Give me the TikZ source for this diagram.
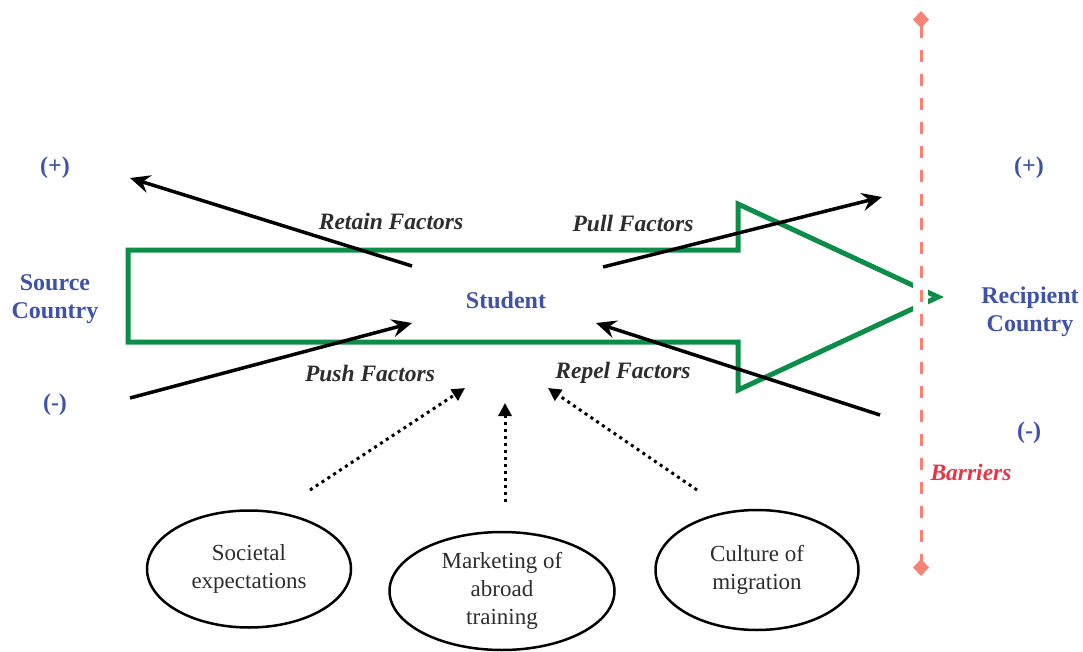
\documentclass[tikz,border=0pt]{standalone}
\usepackage{fontspec}
\setmainfont{Liberation Serif}
\usetikzlibrary{arrows.meta,shapes.geometric}
\definecolor{cblue}{RGB}{62,82,170}
\definecolor{cgreen}{RGB}{12,142,72}
\definecolor{cred}{RGB}{232,52,72}
\definecolor{csalmon}{RGB}{246,132,118}
\definecolor{cgray}{RGB}{45,45,45}

\begin{document}
\begin{tikzpicture}[x=1pt,y=-1pt,
    country/.style={text=cblue,font=\fontsize{24}{28}\selectfont\bfseries,align=center,inner sep=0pt},
    factor/.style={text=cgray,font=\fontsize{23.5}{27}\selectfont\bfseries\itshape,inner sep=0pt},
    cause/.style={ellipse,draw,line width=2.5pt,inner sep=0pt,align=center,text=cgray,font=\fontsize{23}{28}\selectfont},
    force/.style={line width=3.5pt,-{Stealth[length=20pt,width=18pt,inset=7pt]}},
    influence/.style={line width=3pt,dash pattern=on 3pt off 4pt,-{Triangle[length=13pt,width=13pt]}}]
    \useasboundingbox (0,0) rectangle (1083,652);

    \draw[cgreen,line width=5pt,miter limit=10] (128,250) -- (738,250) -- (738,204) -- (938,297)
        -- (738,390) -- (738,342) -- (128,342) -- cycle;
    \fill[white] (913,280) rectangle (928,314);
    \coordinate (bartop) at (921,11);
    \coordinate (barbot) at (921,576);
    \draw[csalmon,line width=3pt,dash pattern=on 12pt off 12pt,
        {Diamond[length=17pt,width=16pt]}-{Diamond[length=17pt,width=16pt]}] (bartop) -- (barbot);

    \node[country] (srcplus) at (55,168) {(+)};
    \node[country] (src) at (55,299) {Source\\Country};
    \node[country] (srcminus) at (55,405) {(-)};
    \node[country] (recplus) at (1029,168) {(+)};
    \node[country] (rec) at (1030,312) {Recipient\\Country};
    \node[country] (recminus) at (1029,433) {(-)};
    \node[country] (student) at (506,300) {Student};

    \node[factor] (retain) at (391,221) {Retain Factors};
    \node[factor] (pull) at (633,223) {Pull Factors};
    \node[factor] (push) at (370,373) {Push Factors};
    \node[factor] (repel) at (623,373) {Repel Factors};
    \node[factor,text=cred] (barriers) at (971,472) {Barriers};

    \coordinate (retain-s) at (412,266);  \coordinate (retain-e) at (130,178);
    \coordinate (pull-s) at (603,267);    \coordinate (pull-e) at (882,197);
    \coordinate (push-s) at (130,398);    \coordinate (push-e) at (412,323);
    \coordinate (repel-s) at (880,415);   \coordinate (repel-e) at (596,323);
    \foreach \f in {retain,pull,push,repel}
        \draw[force] (\f-s) -- (\f-e);

    \node[cause,minimum width=204pt,minimum height=117pt] (societal) at (249,569) {Societal\\expectations};
    \node[cause,minimum width=225pt,minimum height=118pt] (marketing) at (502,591) {Marketing of\\abroad\\training};
    \node[cause,minimum width=203pt,minimum height=120pt] (culture) at (757,570) {Culture of\\migration};

    \coordinate (societal-s) at (310,490);  \coordinate (societal-e) at (465,388);
    \coordinate (marketing-s) at (505,502); \coordinate (marketing-e) at (505,403);
    \coordinate (culture-s) at (697,490);   \coordinate (culture-e) at (548,388);
    \foreach \c in {societal,marketing,culture}
        \draw[influence] (\c-s) -- (\c-e);
\end{tikzpicture}
\end{document}
